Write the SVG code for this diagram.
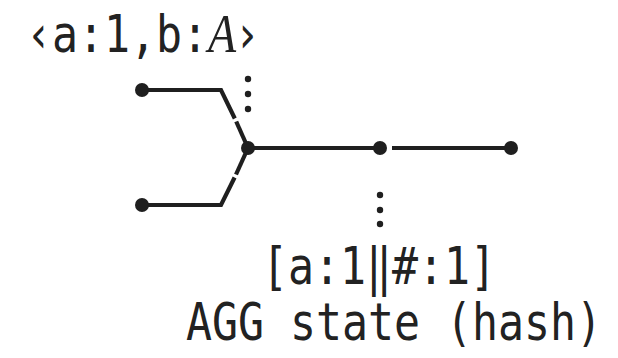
<svg xmlns="http://www.w3.org/2000/svg" width="618" height="358" viewBox="0 0 618 358">
  <style>
    .edge { fill: none; stroke: #1f1f1f; stroke-width: 4.2; stroke-linejoin: miter; stroke-linecap: butt; }
    .node { fill: #1f1f1f; }
    .dot { fill: #1f1f1f; }
    /* tall, narrow monospace: 26px advance, stretched vertically */
    .lbl { font-family: "DejaVu Sans Mono", "Liberation Mono", monospace; font-size: 43.2px; fill: #222; }
    .var { font-family: "Liberation Serif", "DejaVu Serif", serif; font-style: italic; font-size: 46px; }
  </style>
  <rect width="618" height="358" fill="#ffffff"/>

  <!-- connectors -->
  <g id="edges">
    <!-- upper input into merge -->
    <path class="edge" d="M142 90 H221 L234.8 118.5"/>
    <path class="edge" d="M236.2 121.5 L248 148"/>
    <!-- lower input into merge -->
    <path class="edge" d="M142 205 H221 L234.6 177.5"/>
    <path class="edge" d="M236 174.5 L248 148"/>
    <!-- merge to aggregation -->
    <path class="edge" d="M248 148 H380"/>
    <!-- aggregation to output -->
    <path class="edge" d="M392 148 H511"/>
  </g>

  <!-- nodes -->
  <g id="in-top"><circle class="node" cx="142" cy="90" r="7"/></g>
  <g id="in-bottom"><circle class="node" cx="142" cy="205" r="7"/></g>
  <g id="merge">
    <circle class="node" cx="248" cy="148" r="7"/>
    <circle class="dot" cx="248" cy="79" r="3.2"/>
    <circle class="dot" cx="248" cy="94" r="3.2"/>
    <circle class="dot" cx="248" cy="109" r="3.2"/>
  </g>
  <g id="agg">
    <circle class="node" cx="380" cy="148" r="7"/>
    <circle class="dot" cx="380" cy="195" r="3.2"/>
    <circle class="dot" cx="380" cy="210" r="3.2"/>
    <circle class="dot" cx="380" cy="224" r="3.2"/>
  </g>
  <g id="out"><circle class="node" cx="511" cy="148" r="7"/></g>

  <!-- tuple flowing into the merge -->
  <g id="tuple-label" transform="scale(1,1.175)">
    <text class="lbl" x="26" y="44.3">‹a:1,b:<tspan class="var" x="208">A</tspan><tspan x="234">›</tspan></text>
  </g>

  <!-- aggregation state -->
  <g id="state-label" transform="scale(1,1.175)">
    <text class="lbl" x="262" y="241.7">[a:1‖#:1]</text>
    <text class="lbl" x="186" y="289.4">AGG state (hash)</text>
  </g>
</svg>
